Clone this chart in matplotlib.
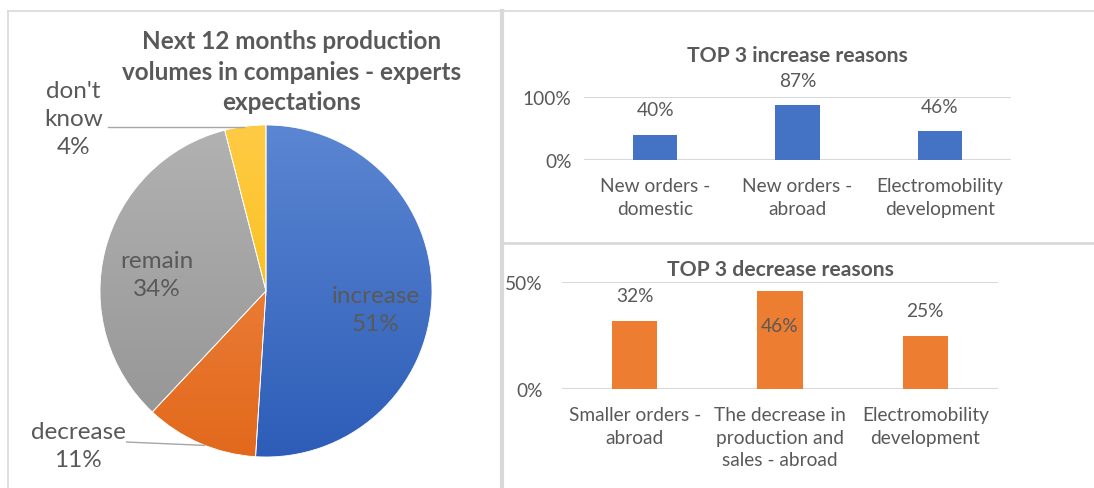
import numpy as np
import matplotlib

matplotlib.use("Agg")
import matplotlib.pyplot as plt
from matplotlib.colors import LinearSegmentedColormap

# dados
pie_labels = ["increase", "decrease", "remain", "don't\nknow"]
pie_values = [51, 11, 34, 4]

inc_categories = ["New orders -\ndomestic", "New orders -\nabroad", "Electromobility\ndevelopment"]
inc_values = [0.40, 0.87, 0.46]

dec_categories = ["Smaller orders -\nabroad", "The decrease in\nproduction and\nsales - abroad",
                  "Electromobility\ndevelopment"]
dec_values = [0.32, 0.46, 0.25]

W, H = 1094, 489
TEXT = "#595959"
GRID = "#D9D9D9"
plt.rcParams["font.family"] = ["Lato", "DejaVu Sans"]


def px_axes(fig, left, top, width, height, **kw):
    return fig.add_axes([left / W, 1 - (top + height) / H, width / W, height / H], **kw)


fig = plt.figure(figsize=(W / 100, H / 100), dpi=100)
fig.patch.set_facecolor("white")

# camada de fundo em pixels para as bordas e o titulo do pie
bg = px_axes(fig, 0, 0, W, H)
bg.set_xlim(0, W)
bg.set_ylim(H, 0)
bg.axis("off")
bg.plot([8, W], [12, 12], color=GRID, lw=1.2)
bg.plot([8, 8], [12, H], color=GRID, lw=1.2)
bg.plot([502, 502], [12, H], color=GRID, lw=3)
bg.plot([502, W], [244, 244], color=GRID, lw=2)
bg.text(292, 72, "Next 12 months production\nvolumes in companies - experts\nexpectations",
        ha="center", va="center", fontsize=17.5, fontweight="bold", color=TEXT, linespacing=1.42)

# pie
ax = px_axes(fig, 266 - 166, 292 - 166, 332, 332)
wedges, _ = ax.pie(pie_values, startangle=90, counterclock=False, radius=1,
                   wedgeprops=dict(edgecolor="white", linewidth=0.6))
grads = [("#5B86D2", "#2D5DB8"), ("#F28C4C", "#E2691C"),
         ("#B2B2B2", "#939393"), ("#FFCB45", "#F6B700")]
grad = np.linspace(0, 1, 256).reshape(-1, 1)
for w, (c_top, c_bot) in zip(wedges, grads):
    cmap = LinearSegmentedColormap.from_list("g", [c_top, c_bot])
    im = ax.imshow(grad, extent=(-1, 1, -1, 1), cmap=cmap, origin="upper", aspect="auto", zorder=2)
    im.set_clip_path(w)
    w.set_facecolor("none")
    w.set_zorder(3)
ax.set_xlim(-1, 1)
ax.set_ylim(-1, 1)
ax.axis("off")

pie_pos = [(0.66, -0.11), (-1.13, -0.93), (-0.66, 0.10), (-1.16, 1.04)]
for lab, val, (x, y) in zip(pie_labels, pie_values, pie_pos):
    ax.text(x, y, f"{lab}\n{val}%", ha="center", va="center", fontsize=17.5, color=TEXT,
            linespacing=1.42, clip_on=False, zorder=5)
ax.plot([-0.95, -0.13], [0.99, 0.99], color="#A6A6A6", lw=1, clip_on=False, zorder=4)
ax.plot([-0.84, -0.37], [-0.91, -0.93], color="#A6A6A6", lw=1, clip_on=False, zorder=4)


def bar_panel(ax, cats, vals, color, ymax, title, title_y, tick_pad, inside=None):
    x = np.arange(len(cats))
    ax.bar(x, vals, width=0.31, color=color, zorder=3)
    ax.set_xlim(-0.5, len(cats) - 0.5)
    ax.set_ylim(0, ymax)
    ax.set_yticks([0, ymax])
    ax.set_yticklabels(["0%", f"{int(ymax * 100)}%"])
    ax.yaxis.grid(True, color=GRID, lw=1.5, zorder=0)
    ax.set_xticks(x)
    ax.set_xticklabels(cats, linespacing=1.42)
    ax.tick_params(axis="both", length=0, colors=TEXT, labelsize=13.8)
    ax.tick_params(axis="y", pad=tick_pad)
    ax.tick_params(axis="x", pad=12)
    for s in ax.spines.values():
        s.set_visible(False)
    for i, v in enumerate(vals):
        off = -25 if inside == i else 18
        ax.annotate(f"{round(v * 100)}%", (i, v), xytext=(0, off), textcoords="offset points",
                    ha="center", va="center", fontsize=13.8, color=TEXT, zorder=4)
    ax.set_title(title, fontsize=15.2, fontweight="bold", color=TEXT, pad=title_y)


ax1 = px_axes(fig, 584, 98, 427, 63)
bar_panel(ax1, inc_categories, inc_values, "#4472C4", 1.0, "TOP 3 increase reasons", 26, 9)

ax2 = px_axes(fig, 562, 283, 436, 107)
bar_panel(ax2, dec_categories, dec_values, "#ED7D31", 0.5, "TOP 3 decrease reasons", 5, 14, inside=1)

fig.savefig("out.png", dpi=100)
